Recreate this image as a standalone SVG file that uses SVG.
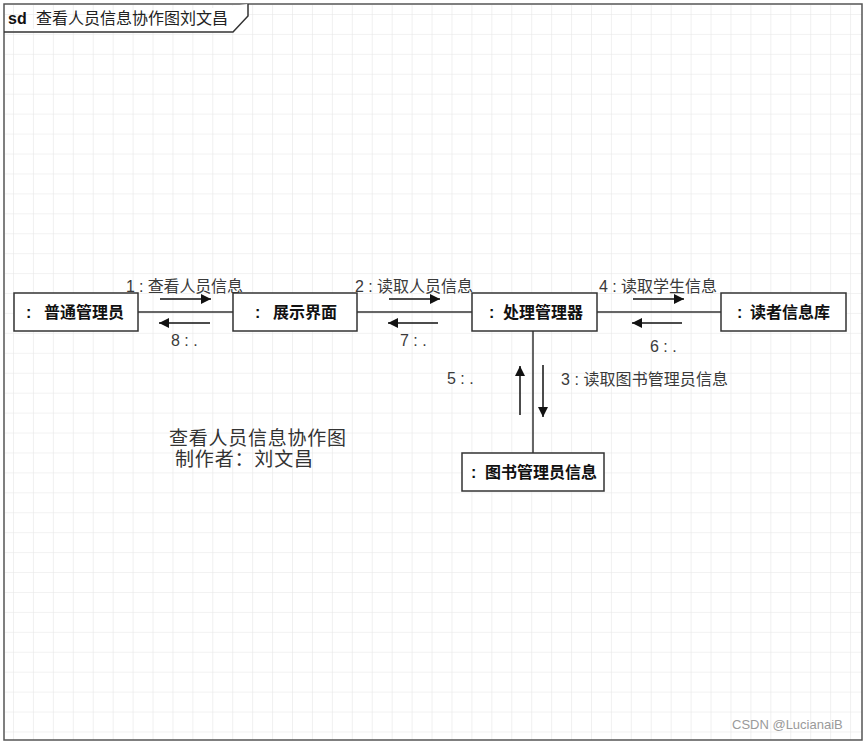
<svg xmlns="http://www.w3.org/2000/svg" width="865" height="742" viewBox="0 0 865 742">
<style>
.lbl{font-family:"Liberation Sans","Noto Sans CJK SC",sans-serif;font-size:16px;fill:#3a3a3a}
.node{font-family:"Liberation Sans","Noto Sans CJK SC",sans-serif;font-size:16px;font-weight:bold;fill:#111}
.box{fill:#fff;stroke:#333;stroke-width:1.5}
.link{stroke:#333;stroke-width:1.5;fill:none}
.msg{stroke:#111;stroke-width:1.5;fill:none;marker-end:url(#ah)}
.cap{font-family:"Liberation Sans","Noto Sans CJK SC",sans-serif;font-size:19px;fill:#333}
</style>
<defs>
<pattern id="grid" x="13" y="14" width="19.93" height="19.93" patternUnits="userSpaceOnUse">
<path d="M0 0H19.93M0 0V19.93" stroke="#e6e6e6" stroke-width="1.2" fill="none"/>
</pattern>
<marker id="ah" viewBox="0 0 10 10" refX="10" refY="5" markerWidth="12" markerHeight="10" markerUnits="userSpaceOnUse" orient="auto">
<path d="M0 0L10 5L0 10Z" fill="#111"/>
</marker>
</defs>
<rect x="0" y="0" width="865" height="742" fill="#fff"/>
<rect x="5" y="5" width="857" height="735" fill="url(#grid)"/>
<g id="frame">
<rect x="4" y="4" width="858" height="736" fill="none" stroke="#555" stroke-width="1.5"/>
<path d="M4 32H233L248 16V4Z" fill="#fff" stroke="none"/>
<path d="M4 32H233L248 16V4" fill="none" stroke="#333" stroke-width="1.5"/>
<text x="8" y="24" font-family="Liberation Sans,sans-serif" font-size="16" font-weight="bold" fill="#111">sd</text>
<text x="36" y="24" font-family="Liberation Sans,Noto Sans CJK SC,sans-serif" font-size="16" fill="#222">查看人员信息协作图刘文昌</text>
</g>
<g id="connectors">
<line class="link" x1="138" y1="312" x2="233" y2="312"/>
<line class="link" x1="357" y1="312" x2="472" y2="312"/>
<line class="link" x1="597" y1="312" x2="721" y2="312"/>
<line class="link" x1="533" y1="331" x2="533" y2="453"/>
<line class="msg" x1="160" y1="299" x2="211" y2="299"/>
<line class="msg" x1="210" y1="323" x2="159" y2="323"/>
<line class="msg" x1="389" y1="299" x2="440" y2="299"/>
<line class="msg" x1="438" y1="323" x2="388" y2="323"/>
<line class="msg" x1="633" y1="299" x2="684" y2="299"/>
<line class="msg" x1="682" y1="323" x2="632" y2="323"/>
<line class="msg" x1="520" y1="415" x2="520" y2="366"/>
<line class="msg" x1="543" y1="365" x2="543" y2="417"/>
<text class="lbl" x="126" y="292" textLength="117">1 : 查看人员信息</text>
<text class="lbl" x="171" y="346">8 : .</text>
<text class="lbl" x="355" y="292" textLength="118">2 : 读取人员信息</text>
<text class="lbl" x="400" y="346">7 : .</text>
<text class="lbl" x="599" y="292" textLength="118">4 : 读取学生信息</text>
<text class="lbl" x="650" y="352">6 : .</text>
<text class="lbl" x="447" y="384">5 : .</text>
<text class="lbl" x="561" y="385" textLength="167">3 : 读取图书管理员信息</text>
</g>
<g id="n1">
<rect class="box" x="14" y="293" width="124" height="38"/>
<text class="node" y="318"><tspan x="26">:</tspan><tspan x="44">普通管理员</tspan></text>
</g>
<g id="n2">
<rect class="box" x="233" y="293" width="124" height="38"/>
<text class="node" y="318"><tspan x="255">:</tspan><tspan x="273">展示界面</tspan></text>
</g>
<g id="n3">
<rect class="box" x="472" y="293" width="125" height="38"/>
<text class="node" y="318"><tspan x="489">:</tspan><tspan x="503">处理管理器</tspan></text>
</g>
<g id="n4">
<rect class="box" x="721" y="293" width="125" height="38"/>
<text class="node" y="318"><tspan x="737">:</tspan><tspan x="750">读者信息库</tspan></text>
</g>
<g id="n5">
<rect class="box" x="462" y="453" width="142" height="38"/>
<text class="node" y="478"><tspan x="471">:</tspan><tspan x="485">图书管理员信息</tspan></text>
</g>
<g id="caption">
<text class="cap" x="169" y="445" textLength="177">查看人员信息协作图</text>
<text class="cap" x="175" y="466" textLength="138">制作者：刘文昌</text>
</g>
<text x="732" y="729" font-family="Liberation Sans,sans-serif" font-size="13" fill="#9a9a9a">CSDN @LucianaiB</text>
</svg>
